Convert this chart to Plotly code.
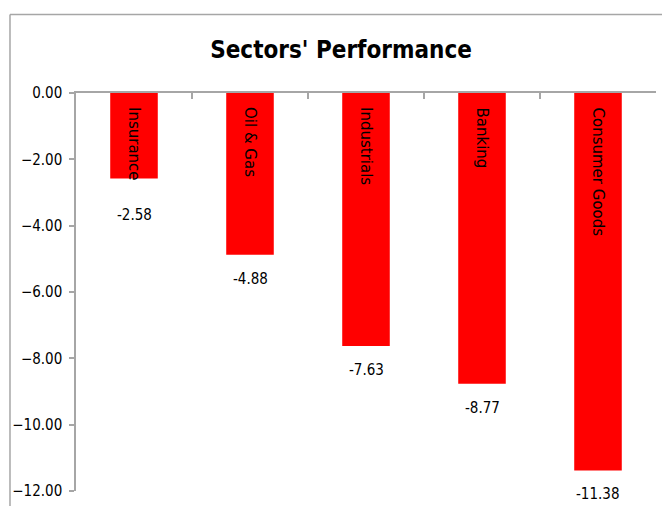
import plotly.graph_objects as go

# Sector returns (%)
sectors = ["Insurance", "Oil & Gas", "Industrials", "Banking", "Consumer Goods"]
returns = [-2.58, -4.88, -7.63, -8.77, -11.38]
y_ticks = [0, -2, -4, -6, -8, -10, -12]

# extra downward push for value labels whose sector name runs past the bar end
value_label_shift = [-36, -24, -24, -24, -24]

RED = "#ff0000"
GRID = "#a6a6a6"
NUM_FONT = "DejaVu Sans Condensed, Liberation Sans Narrow, Liberation Sans, sans-serif"

fig = go.Figure(
    go.Bar(
        x=sectors,
        y=returns,
        marker=dict(color=RED, line=dict(width=0)),
        width=0.41,
        hoverinfo="x+y",
    )
)

annotations = []
for name, val, shift in zip(sectors, returns, value_label_shift):
    # sector name, rotated, inside the top of the bar
    annotations.append(dict(
        x=name, y=0, xref="x", yref="y",
        text=name, textangle=90, showarrow=False,
        xanchor="center", yanchor="top", yshift=-12,
        font=dict(family="DejaVu Sans, Verdana, sans-serif", size=15, color="#000000"),
    ))
    # value label under the bar
    annotations.append(dict(
        x=name, y=val, xref="x", yref="y",
        text=f"{val:.2f}", showarrow=False,
        xanchor="center", yanchor="middle", yshift=shift,
        font=dict(family=NUM_FONT, size=15, color="#000000"),
    ))

# chart frame (left and top edges)
shapes = [
    dict(type="line", xref="paper", yref="paper",
         x0=-0.1138, x1=-0.1138, y0=1.197, y1=-0.2,
         line=dict(color=GRID, width=1.5)),
    dict(type="line", xref="paper", yref="paper",
         x0=-0.1138, x1=1.03, y0=1.197, y1=1.197,
         line=dict(color=GRID, width=1.5)),
]

fig.update_layout(
    width=662, height=506,
    margin=dict(l=76, r=6, t=93, b=10),
    paper_bgcolor="#ffffff",
    plot_bgcolor="#ffffff",
    showlegend=False,
    title=dict(
        text="<b>Sectors' Performance</b>",
        x=(341) / 662, xanchor="center",
        y=1 - 50 / 506, yanchor="middle",
        font=dict(family=NUM_FONT, size=24, color="#000000"),
    ),
    xaxis=dict(
        side="top",
        showticklabels=False,
        ticks="inside", tickson="boundaries", ticklen=6,
        tickcolor=GRID, tickwidth=1.5,
        showline=True, linecolor=GRID, linewidth=1.5,
        showgrid=False, zeroline=False,
        range=[-0.5, 4.5],
    ),
    yaxis=dict(
        range=[-12, 0],
        tickvals=y_ticks,
        tickformat=".2f",
        ticks="outside", ticklen=5, tickcolor=GRID, tickwidth=1.5,
        showline=True, linecolor=GRID, linewidth=1.5,
        showgrid=False, zeroline=False,
        tickfont=dict(family=NUM_FONT, size=15, color="#000000"),
        ticklabelstandoff=4,
    ),
    annotations=annotations,
    shapes=shapes,
)

fig.write_html("out.html")
